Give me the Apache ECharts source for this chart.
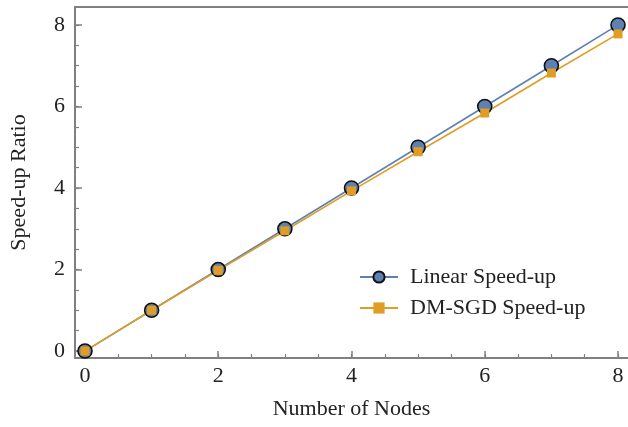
<!DOCTYPE html>
<html><head><meta charset="utf-8">
<script src="https://cdn.jsdelivr.net/npm/echarts@6/dist/echarts.min.js"></script>
<style>html,body{margin:0;padding:0;background:#fff}#c{width:628px;height:427px}</style>
</head><body><div id="c"></div>
<script>
const nodes = [0, 1, 2, 3, 4, 5, 6, 7, 8];
const linearSpeedup = [0, 1, 2, 3, 4, 5, 6, 7, 8];
const dmsgdSpeedup = [0, 1, 1.98, 2.95, 3.93, 4.89, 5.84, 6.82, 7.78];
const majorTicks = [0, 2, 4, 6, 8];
const minorTicks = [0, 0.5, 1, 1.5, 2, 2.5, 3, 3.5, 4, 4.5, 5, 5.5, 6, 6.5, 7, 7.5, 8];
const seriesNames = ['Linear Speed-up', 'DM-SGD Speed-up'];

const FONT = 'Liberation Serif';
const AX = '#808080';
const chart = echarts.init(document.getElementById('c'));
const xr = {min: -0.15, max: 8.15};
const yr = {min: -0.17, max: 8.44};
chart.setOption({
  animation: false,
  grid: {left: 73, right: 0, top: 7, bottom: 69, containLabel: false},
  legend: {
    orient: 'vertical', left: 354, top: 261, itemWidth: 38, itemHeight: 14, itemGap: 9,
    textStyle: {fontFamily: FONT, fontSize: 22, color: '#222', padding: [0, 0, 0, 7]},
    data: seriesNames
  },
  xAxis: [
    {type: 'value', position: 'bottom', min: xr.min, max: xr.max,
     name: 'Number of Nodes', nameLocation: 'middle', nameGap: 40,
     nameTextStyle: {fontFamily: FONT, fontSize: 22, color: '#222'},
     axisLine: {show: true, onZero: false, lineStyle: {color: AX, width: 2}},
     axisTick: {show: true, inside: true, length: 7, customValues: majorTicks, lineStyle: {color: AX, width: 1.5}},
     axisLabel: {customValues: majorTicks, margin: 7, fontFamily: FONT, fontSize: 22, color: '#222'},
     splitLine: {show: false}},
    {type: 'value', position: 'bottom', min: xr.min, max: xr.max,
     axisLine: {show: false, onZero: false},
     axisTick: {show: true, inside: true, length: 4, customValues: minorTicks, lineStyle: {color: AX, width: 1.2}},
     axisLabel: {show: false}, splitLine: {show: false}},
    {type: 'value', position: 'top', min: xr.min, max: xr.max,
     axisLine: {show: true, onZero: false, lineStyle: {color: AX, width: 2}},
     axisTick: {show: false}, axisLabel: {show: false}, splitLine: {show: false}}
  ],
  yAxis: [
    {type: 'value', position: 'left', min: yr.min, max: yr.max,
     name: 'Speed-up Ratio', nameLocation: 'middle', nameGap: 45,
     nameTextStyle: {fontFamily: FONT, fontSize: 22, color: '#222'},
     axisLine: {show: true, onZero: false, lineStyle: {color: AX, width: 2}},
     axisTick: {show: true, inside: true, length: 7, customValues: majorTicks, lineStyle: {color: AX, width: 1.5}},
     axisLabel: {customValues: majorTicks, margin: 10, fontFamily: FONT, fontSize: 22, color: '#222'},
     splitLine: {show: false}},
    {type: 'value', position: 'left', min: yr.min, max: yr.max,
     axisLine: {show: false, onZero: false},
     axisTick: {show: true, inside: true, length: 4, customValues: minorTicks, lineStyle: {color: AX, width: 1.2}},
     axisLabel: {show: false}, splitLine: {show: false}}
  ],
  series: [
    {name: seriesNames[0], type: 'line', xAxisIndex: 0, yAxisIndex: 0,
     data: nodes.map((x, i) => [x, linearSpeedup[i]]),
     symbol: 'circle', symbolSize: 14,
     lineStyle: {color: '#5E81B5', width: 1.6},
     itemStyle: {color: '#5E81B5', borderColor: '#111', borderWidth: 1.6}},
    {name: seriesNames[1], type: 'line', xAxisIndex: 0, yAxisIndex: 0,
     data: nodes.map((x, i) => [x, dmsgdSpeedup[i]]),
     symbol: 'rect', symbolSize: 9,
     lineStyle: {color: '#E19C24', width: 1.6},
     itemStyle: {color: '#E19C24', borderWidth: 0}}
  ]
});
</script></body></html>
